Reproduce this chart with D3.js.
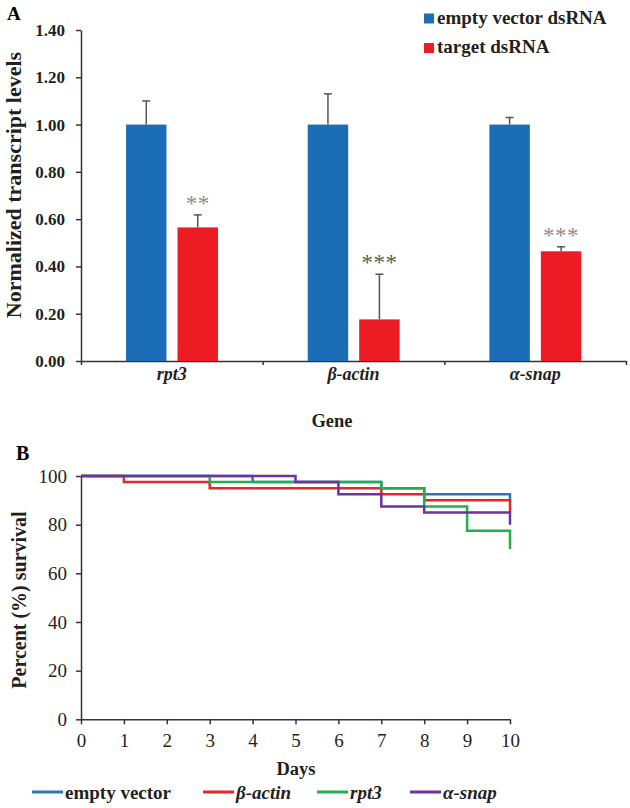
<!DOCTYPE html>
<html>
<head>
<meta charset="utf-8">
<script src="https://cdn.jsdelivr.net/npm/d3@7"></script>
<style>
	body { margin: 0; background: #fff; }
	svg { display: block; font-family: "Liberation Serif", "Times New Roman", serif; }
	.axis path, .axis line { stroke: #333; stroke-width: 1.5; }
	.axis text { fill: #231f20; }
</style>
</head>
<body>
<div id="chart"></div>
<script>
//Panel A data
var genes = ["rpt3", "β-actin", "α-snap"];
var emptyMeans = [1.00, 1.00, 1.00];
var emptyErr = [0.10, 0.13, 0.03];
var targetMeans = [0.565, 0.176, 0.464];
var targetErr = [0.053, 0.191, 0.019];
var sigMarks = ["**", "***", "***"];
var sigColors = ["#8c8c8c", "#5a5a5a", "#8c8c8c"];
var yTicksA = [0, 0.2, 0.4, 0.6, 0.8, 1.0, 1.2, 1.4];

//Panel B data (survival % at the end of each day)
var days = [0, 1, 2, 3, 4, 5, 6, 7, 8, 9, 10];
var survEmpty = [100, 100, 100, 100, 97.5, 97.5, 97.5, 95, 92.5, 92.5, 90];
var survActin = [100, 97.5, 97.5, 95, 95, 95, 95, 92.5, 90, 90, 85];
var survRpt3 = [100, 100, 100, 97.5, 97.5, 97.5, 97.5, 95, 87.5, 77.5, 70];
var survSnap = [100, 100, 100, 100, 100, 97.5, 92.5, 87.5, 85, 85, 80];
var yTicksB = [0, 20, 40, 60, 80, 100];

var blue = "#1b6db5", red = "#ed1c24";

var svg = d3.select("#chart").append("svg")
	.attr("width", 630)
	.attr("height", 808);

// ---------- Panel A ----------
var x = d3.scaleBand().domain(genes).range([81, 626]);
var xSub = d3.scaleBand().domain(["empty", "target"])
	.range([x.bandwidth() * 0.248, x.bandwidth() * 0.754])
	.paddingInner(0.214);
var xEdge = d3.scaleLinear().domain([0, genes.length]).range([81, 626]);
var yA = d3.scaleLinear().domain([0, 1.4]).range([361, 30]);

svg.append("text")
	.attr("x", 7).attr("y", 20)
	.attr("font-size", 19).attr("font-weight", "bold")
	.text("A");

//y axis
svg.append("g")
	.attr("class", "axis")
	.attr("transform", "translate(81,0)")
	.call(d3.axisLeft(yA).tickValues(yTicksA).tickSize(5).tickSizeOuter(0).tickPadding(11)
		.tickFormat(d3.format(".2f")))
	.selectAll("text")
	.attr("font-size", 17).attr("font-weight", "bold")
	.attr("font-family", "Liberation Serif, serif");

//x axis with boundary ticks
svg.append("g")
	.attr("class", "axis")
	.attr("transform", "translate(0,361)")
	.call(d3.axisBottom(xEdge).tickValues(d3.range(genes.length + 1)).tickSize(4).tickSizeOuter(0)
		.tickFormat(""));

//category labels
svg.selectAll(".gene-label")
	.data(genes)
	.enter()
	.append("text")
	.attr("class", "gene-label")
	.attr("x", function(d) { return x(d) + x.bandwidth() / 2; })
	.attr("y", 380)
	.attr("text-anchor", "middle")
	.attr("font-size", 18).attr("font-weight", "bold").attr("font-style", "italic")
	.attr("fill", "#231f20")
	.text(function(d) { return d; });

svg.append("text")
	.attr("x", 332).attr("y", 427)
	.attr("text-anchor", "middle")
	.attr("font-size", 18.5).attr("font-weight", "bold")
	.attr("fill", "#231f20")
	.text("Gene");

svg.append("text")
	.attr("transform", "translate(21,185) rotate(-90)")
	.attr("text-anchor", "middle")
	.attr("font-size", 22).attr("font-weight", "bold")
	.attr("fill", "#231f20")
	.text("Normalized transcript levels");

//bars
var groups = svg.selectAll(".gene")
	.data(genes)
	.enter()
	.append("g")
	.attr("class", "gene")
	.attr("transform", function(d) { return "translate(" + x(d) + ",0)"; });

groups.append("rect")
	.attr("x", xSub("empty"))
	.attr("y", function(d, i) { return yA(emptyMeans[i]); })
	.attr("width", xSub.bandwidth())
	.attr("height", function(d, i) { return yA(0) - yA(emptyMeans[i]); })
	.attr("fill", blue);

groups.append("rect")
	.attr("x", xSub("target"))
	.attr("y", function(d, i) { return yA(targetMeans[i]); })
	.attr("width", xSub.bandwidth())
	.attr("height", function(d, i) { return yA(0) - yA(targetMeans[i]); })
	.attr("fill", red);

//error bars (upper only)
var errorBar = function(g, key, means, errs) {
	var cx = xSub(key) + xSub.bandwidth() / 2;
	g.append("line")
		.attr("x1", cx).attr("x2", cx)
		.attr("y1", function(d, i) { return yA(means[i]); })
		.attr("y2", function(d, i) { return yA(means[i] + errs[i]); })
		.attr("stroke", "#555").attr("stroke-width", 1.5);
	g.append("line")
		.attr("x1", cx - 4).attr("x2", cx + 4)
		.attr("y1", function(d, i) { return yA(means[i] + errs[i]); })
		.attr("y2", function(d, i) { return yA(means[i] + errs[i]); })
		.attr("stroke", "#555").attr("stroke-width", 1.5);
};
errorBar(groups, "empty", emptyMeans, emptyErr);
errorBar(groups, "target", targetMeans, targetErr);

//significance marks
groups.append("text")
	.attr("x", xSub("target") + xSub.bandwidth() / 2)
	.attr("y", function(d, i) { return yA(targetMeans[i] + targetErr[i]) - 4; })
	.attr("text-anchor", "middle")
	.attr("font-size", 23)
	.attr("letter-spacing", 0.5)
	.attr("fill", function(d, i) { return sigColors[i]; })
	.text(function(d, i) { return sigMarks[i]; });

//legend A
var legendA = [{ text: "empty vector dsRNA", color: blue }, { text: "target dsRNA", color: red }];
var legA = svg.selectAll(".legA")
	.data(legendA)
	.enter()
	.append("g")
	.attr("class", "legA")
	.attr("transform", function(d, i) { return "translate(424," + (13.5 + i * 29.5) + ")"; });
legA.append("rect")
	.attr("width", 10).attr("height", 10)
	.attr("fill", function(d) { return d.color; });
legA.append("text")
	.attr("x", 13).attr("y", 10)
	.attr("font-size", 19).attr("font-weight", "bold")
	.attr("fill", "#231f20")
	.text(function(d) { return d.text; });

// ---------- Panel B ----------
var xB = d3.scaleLinear().domain([0, 10]).range([81, 510]);
var yB = d3.scaleLinear().domain([0, 100]).range([719.3, 476]);

svg.append("text")
	.attr("x", 16).attr("y", 459.5)
	.attr("font-size", 20).attr("font-weight", "bold")
	.text("B");

svg.append("g")
	.attr("class", "axis")
	.attr("transform", "translate(81,0)")
	.call(d3.axisLeft(yB).tickValues(yTicksB).tickSize(5).tickSizeOuter(0).tickPadding(9))
	.selectAll("text")
	.attr("font-size", 19)
	.attr("font-family", "Liberation Serif, serif");

svg.append("g")
	.attr("class", "axis")
	.attr("transform", "translate(0,719.3)")
	.call(d3.axisBottom(xB).tickValues(days).tickSize(5).tickSizeOuter(0).tickPadding(9))
	.selectAll("text")
	.attr("font-size", 19)
	.attr("font-family", "Liberation Serif, serif");

svg.append("text")
	.attr("x", 296).attr("y", 774.5)
	.attr("text-anchor", "middle")
	.attr("font-size", 18.5).attr("font-weight", "bold")
	.attr("fill", "#231f20")
	.text("Days");

svg.append("text")
	.attr("transform", "translate(26,600) rotate(-90)")
	.attr("text-anchor", "middle")
	.attr("font-size", 20).attr("font-weight", "bold")
	.attr("fill", "#231f20")
	.text("Percent (%) survival");

var seriesB = [
	{ name: "empty vector", values: survEmpty, color: "#2e75b6", italic: false },
	{ name: "β-actin", values: survActin, color: "#e8262a", italic: true },
	{ name: "rpt3", values: survRpt3, color: "#21b04b", italic: true },
	{ name: "α-snap", values: survSnap, color: "#7030a0", italic: true }
];

var line = d3.line()
	.x(function(d) { return xB(d[0]); })
	.y(function(d) { return yB(d[1]); })
	.curve(d3.curveStepAfter);

svg.selectAll(".surv")
	.data(seriesB)
	.enter()
	.append("path")
	.attr("class", "surv")
	.attr("fill", "none")
	.attr("stroke", function(d) { return d.color; })
	.attr("stroke-width", 2.5)
	.attr("d", function(d) { return line(days.map(function(t, i) { return [t, d.values[i]]; })); });

//legend B
var legendX = [32, 203, 317, 410];
var legB = svg.selectAll(".legB")
	.data(seriesB)
	.enter()
	.append("g")
	.attr("class", "legB")
	.attr("transform", function(d, i) { return "translate(" + legendX[i] + ",792)"; });
legB.append("line")
	.attr("x1", 0).attr("x2", 31)
	.attr("stroke", function(d) { return d.color; })
	.attr("stroke-width", 3);
legB.append("text")
	.attr("x", 33).attr("y", 7)
	.attr("font-size", 19).attr("font-weight", "bold")
	.attr("font-style", function(d) { return d.italic ? "italic" : "normal"; })
	.attr("fill", "#231f20")
	.text(function(d) { return d.name; });
</script>
</body>
</html>
